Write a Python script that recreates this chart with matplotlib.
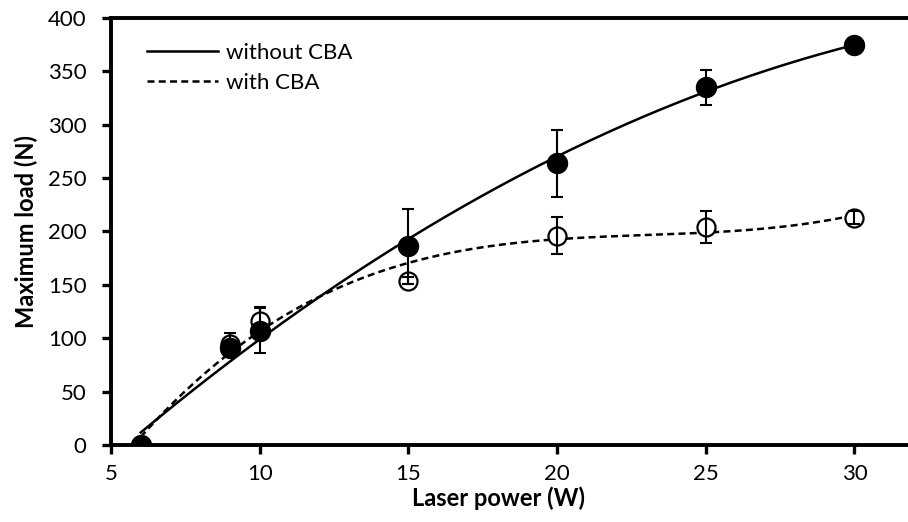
import numpy as np
import matplotlib
matplotlib.use('Agg')
import matplotlib.pyplot as plt

plt.rcParams['font.family'] = ['Lato', 'DejaVu Sans']

# Laser power (W) and maximum load (N)
power = [6, 9, 10, 15, 20, 25, 30]
load_without = [0, 91, 107, 186, 264, 335, 375]
err_without = [0, 3, 21, 35, 31.5, 16.5, 0]
load_with = [0, 95, 116, 154, 196, 204, 213]
err_with = [0, 10, 13, 3, 17.5, 15, 6]

fig = plt.figure(figsize=(9.08, 5.22), dpi=100)
ax = fig.add_axes([111 / 908, 1 - 445 / 522, 1 - 111 / 908, (445 - 18) / 522])

# polynomial trendlines (2nd order without CBA, 3rd order with CBA)
xs = np.linspace(6, 30, 200)
fit_without = np.polyfit(power, load_without, 2)
fit_with = np.polyfit(power, load_with, 3)
ax.plot(xs, np.polyval(fit_without, xs), 'k-', lw=1.8, label='without CBA', zorder=2)
ax.plot(xs, np.polyval(fit_with, xs), 'k--', lw=1.8, dashes=(2.8, 1.7), label='with CBA', zorder=2)

# data points: open circles underneath, filled circles on top
ax.plot(power, load_with, 'o', mfc='white', mec='black', mew=1.6, ms=13, zorder=3)
ax.plot(power, load_without, 'o', color='black', ms=14.4, zorder=4)

# error bars
ax.errorbar(power, load_without, yerr=err_without, fmt='none', ecolor='black',
            elinewidth=1.5, capsize=4.5, capthick=1.5, zorder=5)
ax.errorbar(power, load_with, yerr=err_with, fmt='none', ecolor='black',
            elinewidth=1.5, capsize=4.5, capthick=1.5, zorder=5)

ax.set_xlim(5, 5 + (908 - 111) / 29.74)
ax.set_ylim(0, 400)
ax.set_xticks([5, 10, 15, 20, 25, 30])
ax.set_yticks(range(0, 401, 50))

for side in ['left', 'bottom', 'top']:
    ax.spines[side].set_linewidth(2.8)
ax.spines['right'].set_visible(False)
ax.tick_params(direction='out', length=6.5, width=2.4, labelsize=16, colors='black')
ax.tick_params(axis='y', pad=11)
ax.tick_params(axis='x', pad=7, top=False)

ax.set_xlabel('Laser power (W)', fontsize=17, fontweight='bold')
ax.set_ylabel('Maximum load (N)', fontsize=17, fontweight='bold')
ax.xaxis.set_label_coords(0.486, -0.096)
ax.yaxis.set_label_coords(-0.092, 0.5)

ax.legend(loc='upper left', bbox_to_anchor=(0.045, 0.942), frameon=False,
          borderpad=0, borderaxespad=0, fontsize=16, handlelength=3.2,
          handletextpad=0.35, labelspacing=0.45)

fig.savefig('out.png', dpi=100)
